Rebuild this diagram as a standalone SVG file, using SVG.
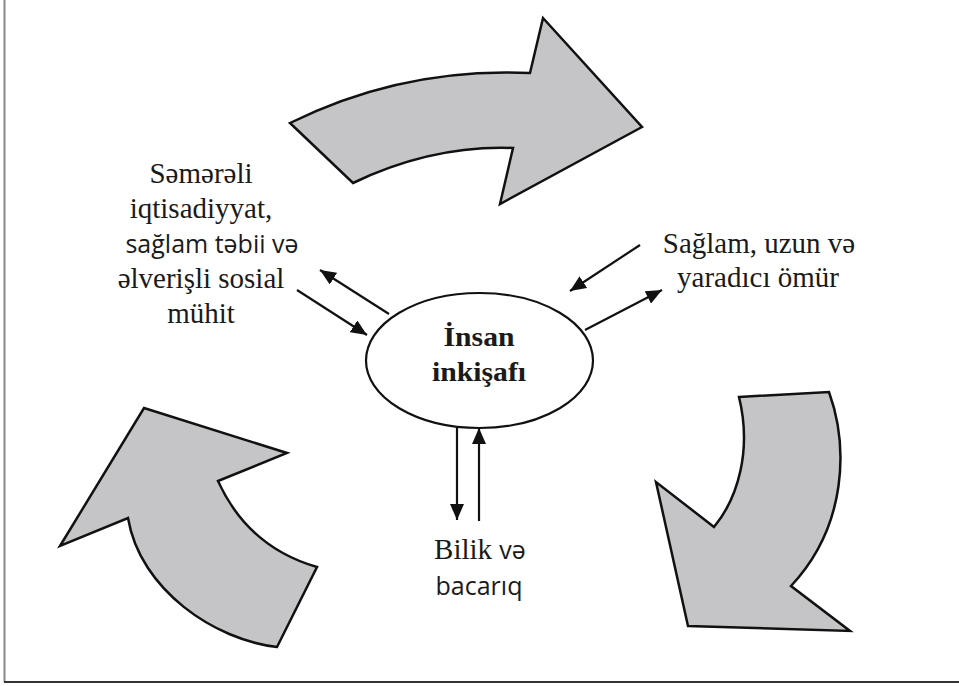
<svg xmlns="http://www.w3.org/2000/svg" width="959" height="686" viewBox="0 0 959 686">
<style>
.big{fill:#c5c5c7;stroke:#111;stroke-width:2.5;stroke-linejoin:miter}
.ser{font-family:"Liberation Serif","Times New Roman",serif;font-size:29px;fill:#1a1a1a;text-anchor:middle}
.sans{font-family:"Open Sans","DejaVu Sans",sans-serif;font-size:25px;fill:#1a1a1a}
.title{font-family:"Liberation Serif","Times New Roman",serif;font-size:27px;font-weight:bold;fill:#1a1a1a;text-anchor:middle}
.con{stroke:#111;stroke-width:2.2;fill:none;marker-end:url(#ah)}
</style>
<defs>
<marker id="ah" markerUnits="userSpaceOnUse" markerWidth="17" markerHeight="14" refX="16" refY="7" orient="auto">
<path d="M0,0 L16,7 L0,14 Z" fill="#111"/>
</marker>
</defs>
<rect width="959" height="686" fill="#fff"/>
<g id="frame">
<line x1="4.5" y1="0" x2="4.5" y2="682" stroke="#888" stroke-width="2"/>
<line x1="4" y1="682" x2="959" y2="682" stroke="#333" stroke-width="2"/>
</g>
<g id="arrow-top">
<path class="big" d="M290,123 Q403,67 530,73 L543,18 L642,127 L500,204 L513,148 Q432,145 353,183 Z"/>
</g>
<g id="arrow-right">
<path class="big" d="M739,397 L829,392 C848,445 848,525 791,586 L850,631 L688,626 L656,482 L714,527 C738,498 752,450 739,397 Z"/>
</g>
<g id="arrow-left">
<path class="big" d="M144,408 L287,453 L218,481 Q248,547 317,567 L277,647 C215,640 140,590 128,518 L60,546 Z"/>
</g>
<g id="center">
<ellipse cx="479.5" cy="360.5" rx="113.5" ry="67.5" fill="#fff" stroke="#111" stroke-width="2.2"/>
<text class="title" transform="translate(479,346) scale(1.1,1)">İnsan</text>
<text class="title" transform="translate(479,381) scale(1.1,1)">inkişafı</text>
</g>
<g id="label-left">
<text class="ser" x="201" y="183">Səmərəli</text>
<text class="ser" x="201" y="218">iqtisadiyyat,</text>
<text class="sans" x="212" y="253" text-anchor="middle">sağlam təbii və</text>
<text class="ser" x="201" y="288">əlverişli sosial</text>
<text class="ser" x="201" y="323">mühit</text>
</g>
<g id="label-right">
<text class="ser" x="759" y="253" font-size="30">Sağlam, uzun və</text>
<text class="ser" x="758" y="287" font-size="30">yaradıcı ömür</text>
</g>
<g id="label-bottom">
<text x="480" y="559" text-anchor="middle"><tspan class="ser">Bilik </tspan><tspan class="sans">və</tspan></text>
<text class="sans" x="479" y="595" text-anchor="middle">bacarıq</text>
</g>
<g id="connectors">
<line class="con" x1="389" y1="314" x2="320" y2="270"/>
<line class="con" x1="297" y1="290" x2="367" y2="335"/>
<line class="con" x1="640" y1="245" x2="570" y2="291"/>
<line class="con" x1="585" y1="330" x2="662" y2="290"/>
<line class="con" x1="457" y1="428" x2="457" y2="520"/>
<line class="con" x1="479" y1="521" x2="479" y2="428"/>
</g>
</svg>
